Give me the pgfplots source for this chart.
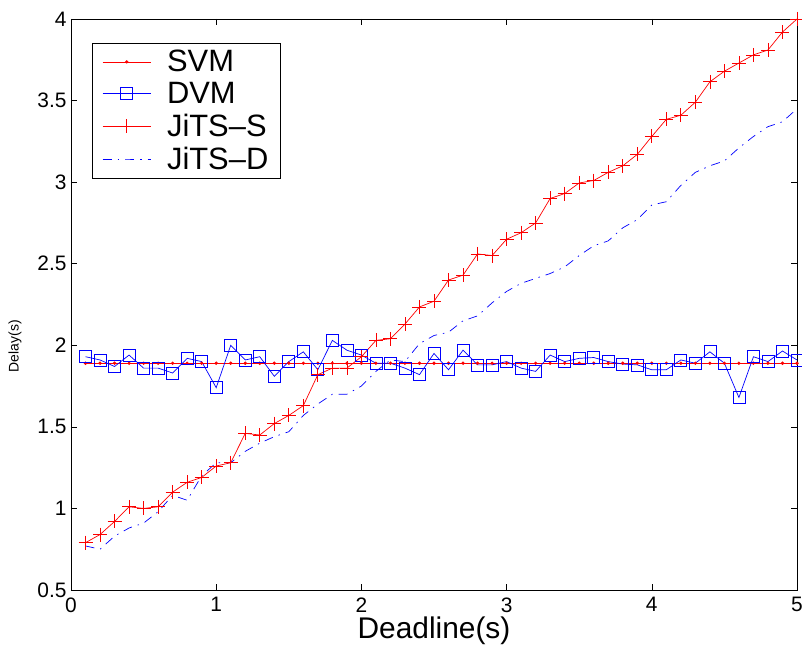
\documentclass[border=0pt]{standalone}
\usepackage{fontspec}
\setmainfont{Liberation Sans}
\usepackage{pgfplots}
\pgfplotsset{compat=1.18}
\definecolor{cA}{RGB}{255,0,0}
\definecolor{cAm}{RGB}{252,0,0}
\definecolor{cB}{RGB}{0,0,255}
\definecolor{cBm}{RGB}{0,0,253}
\definecolor{cC}{RGB}{254,0,0}
\definecolor{cCm}{RGB}{251,0,0}
\definecolor{cD}{RGB}{0,0,254}
\begin{document}
\begin{tikzpicture}
\begin{axis}[
  scale only axis, width=726bp, height=571bp,
  xmin=0, xmax=5, ymin=0.5, ymax=4,
  xtick={0,1,2,3,4,5}, ytick={0.5,1,1.5,2,2.5,3,3.5,4},
  yticklabels={0.5,1,1.5,2,2.5,3,3.5,4},
  tick align=inside, major tick length=6bp,
  tick style={black, line width=0.6bp},
  axis line style={black, line width=0.8bp},
  /pgf/number format/assume math mode=true,
  ticklabel style={font=\fontsize{21}{21}\selectfont},
  xticklabel style={yshift=-4bp},
  yticklabel style={xshift=-1bp},
  xlabel={Deadline(s)},
  xlabel style={font=\fontsize{30}{30}\selectfont, at={([yshift=-41bp]rel axis cs:0.5,0)}, anchor=center},
  legend style={at={(rel axis cs:0.0289,0.958)}, anchor=north west, draw=black, line width=0.8bp,
    font=\fontsize{31}{31}\selectfont, inner xsep=10bp, inner ysep=5bp, row sep=5bp,
    nodes={inner sep=2bp},
    /tikz/every odd column/.append style={column sep=14bp},
    cells={anchor=west}},
  legend image code/.code={\draw[mark repeat=2, mark phase=2] plot coordinates {(0bp,0bp) (24bp,0bp) (48bp,0bp)};},
  legend cell align=left,
]
\addplot[color=cA, line width=0.7bp, mark=*, mark size=1.3bp, mark options={color=cAm}] coordinates {
(0.1,1.89)(0.2,1.89)(0.3,1.89)(0.4,1.89)(0.5,1.89)(0.6,1.89)(0.7,1.89)(0.8,1.89)(0.9,1.89)(1.0,1.89)
(1.1,1.89)(1.2,1.89)(1.3,1.89)(1.4,1.89)(1.5,1.89)(1.6,1.89)(1.7,1.89)(1.8,1.89)(1.9,1.89)(2.0,1.89)
(2.1,1.89)(2.2,1.89)(2.3,1.89)(2.4,1.89)(2.5,1.89)(2.6,1.89)(2.7,1.89)(2.8,1.89)(2.9,1.89)(3.0,1.89)
(3.1,1.89)(3.2,1.89)(3.3,1.89)(3.4,1.89)(3.5,1.89)(3.6,1.89)(3.7,1.89)(3.8,1.89)(3.9,1.89)(4.0,1.89)
(4.1,1.89)(4.2,1.89)(4.3,1.89)(4.4,1.89)(4.5,1.89)(4.6,1.89)(4.7,1.89)(4.8,1.89)(4.9,1.89)(5.0,1.89)};
\addlegendentry{SVM}
\addplot[color=cB, line width=0.7bp, mark=square, mark size=6bp, mark options={color=cBm}] coordinates {
(0.1,1.93)(0.2,1.91)(0.3,1.87)(0.4,1.94)(0.5,1.86)(0.6,1.86)(0.7,1.83)(0.8,1.92)(0.9,1.90)(1.0,1.74)
(1.1,2.00)(1.2,1.91)(1.3,1.93)(1.4,1.81)(1.5,1.90)(1.6,1.96)(1.7,1.85)(1.8,2.03)(1.9,1.97)(2.0,1.94)
(2.1,1.89)(2.2,1.89)(2.3,1.86)(2.4,1.82)(2.5,1.95)(2.6,1.85)(2.7,1.97)(2.8,1.88)(2.9,1.88)(3.0,1.90)
(3.1,1.86)(3.2,1.84)(3.3,1.94)(3.4,1.90)(3.5,1.92)(3.6,1.925)(3.7,1.90)(3.8,1.885)(3.9,1.88)(4.0,1.85)
(4.1,1.85)(4.2,1.91)(4.3,1.89)(4.4,1.96)(4.5,1.89)(4.6,1.68)(4.7,1.93)(4.8,1.90)(4.9,1.965)(5.0,1.91)};
\addlegendentry{DVM}
\addplot[color=cC, line width=0.7bp, mark=+, mark size=7bp, mark options={color=cCm}] coordinates {
(0.1,0.79)(0.2,0.84)(0.3,0.92)(0.4,1.01)(0.5,1.00)(0.6,1.01)(0.7,1.10)(0.8,1.16)(0.9,1.19)(1.0,1.26)
(1.1,1.28)(1.2,1.46)(1.3,1.45)(1.4,1.52)(1.5,1.57)(1.6,1.63)(1.7,1.82)(1.8,1.86)(1.9,1.86)(2.0,1.93)
(2.1,2.03)(2.2,2.04)(2.3,2.13)(2.4,2.235)(2.5,2.27)(2.6,2.40)(2.7,2.43)(2.8,2.56)(2.9,2.55)(3.0,2.65)
(3.1,2.69)(3.2,2.75)(3.3,2.90)(3.4,2.93)(3.5,2.995)(3.6,3.01)(3.7,3.06)(3.8,3.10)(3.9,3.17)(4.0,3.28)
(4.1,3.385)(4.2,3.41)(4.3,3.49)(4.4,3.615)(4.5,3.68)(4.6,3.73)(4.7,3.78)(4.8,3.81)(4.9,3.92)(5.0,4.00)};
\addlegendentry{JiTS--S}
\addplot[color=cD, line width=0.7bp, dash pattern=on 9bp off 6bp on 1.5bp off 6bp] coordinates {
(0.1,0.77)(0.2,0.75)(0.3,0.83)(0.4,0.88)(0.5,0.91)(0.6,0.98)(0.7,1.08)(0.8,1.05)(0.9,1.20)(1.0,1.28)
(1.1,1.28)(1.2,1.35)(1.3,1.40)(1.4,1.44)(1.5,1.47)(1.6,1.57)(1.7,1.64)(1.8,1.70)(1.9,1.70)(2.0,1.75)
(2.1,1.84)(2.2,1.91)(2.3,1.90)(2.4,2.01)(2.5,2.06)(2.6,2.08)(2.7,2.15)(2.8,2.18)(2.9,2.26)(3.0,2.33)
(3.1,2.38)(3.2,2.41)(3.3,2.44)(3.4,2.48)(3.5,2.55)(3.6,2.61)(3.7,2.64)(3.8,2.72)(3.9,2.77)(4.0,2.86)
(4.1,2.88)(4.2,2.98)(4.3,3.06)(4.4,3.10)(4.5,3.13)(4.6,3.21)(4.7,3.28)(4.8,3.34)(4.9,3.37)(5.0,3.45)};
\addlegendentry{JiTS--D}
\coordinate (ll) at (rel axis cs:0,0);
\coordinate (ur) at (rel axis cs:1,1);
\coordinate (yl) at (rel axis cs:0,0.427);
\end{axis}
\node[rotate=90, anchor=center, font=\fontsize{14}{14}\selectfont, inner sep=0pt] at ([xshift=-56bp]yl) {Delay(s)};
\pgfresetboundingbox
\path ([shift={(-71bp,-59bp)}]ll) rectangle ([shift={(5bp,19bp)}]ur);
\end{tikzpicture}
\end{document}
